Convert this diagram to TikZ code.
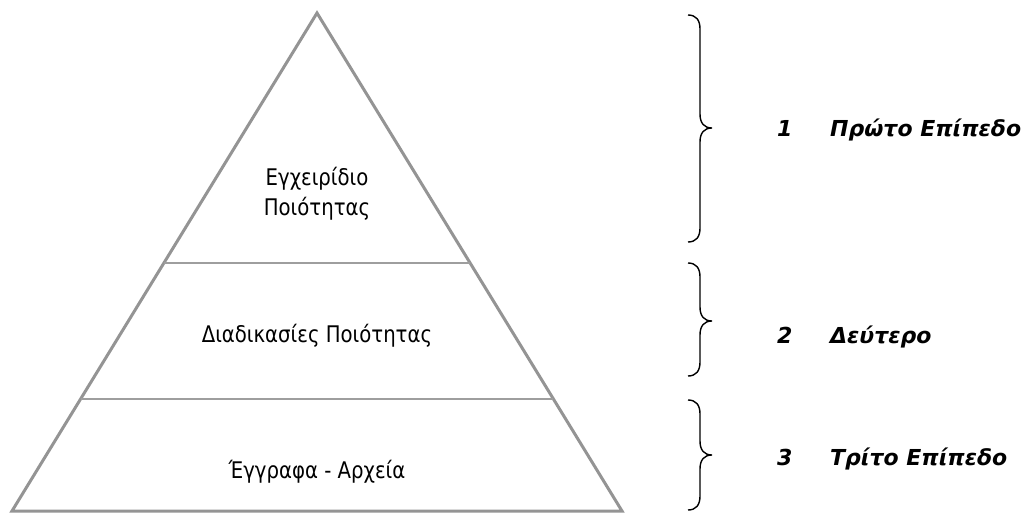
\documentclass[tikz,border=0pt]{standalone}
\usepackage{fontspec}
\setmainfont{DejaVu Sans}
\newfontfamily\pyrfont{DejaVu Sans}[FakeStretch=0.86]
\newfontfamily\labfont{DejaVu Sans}
\newcommand\mybrace[3]{%
  \draw[bracestyle] (688,#1) .. controls (696,#1) and (700,#1+5) .. (700,#1+14)
    -- (700,#2-14) .. controls (700,#2-5) and (704,#2) .. (712,#2)
    .. controls (704,#2) and (700,#2+5) .. (700,#2+14)
    -- (700,#3-14) .. controls (700,#3-5) and (696,#3) .. (688,#3);}
\tikzset{
  pyrline/.style={draw=black!42, line width=3pt, line join=miter},
  sepline/.style={draw=black!38, line width=2.2pt},
  bracestyle/.style={draw=black, line width=1.4pt},
  pyrtext/.style={inner sep=0pt, anchor=base, align=center, font=\pyrfont\fontsize{22.9}{30}\selectfont},
  labtext/.style={inner sep=0pt, anchor=base west, font=\labfont\bfseries\itshape\fontsize{22}{26}\selectfont}
}
\begin{document}
\begin{tikzpicture}[x=1pt,y=-1pt]
\useasboundingbox (0,0) rectangle (1024,513);
% pyramid
\coordinate (apex) at (317,13);
\coordinate (bl) at (12,511);
\coordinate (br) at (622,511);
\draw[pyrline] (bl) -- (apex) -- (br) -- cycle;
\path (apex) -- (bl) coordinate[pos=0.502] (s1l);
\path (apex) -- (br) coordinate[pos=0.502] (s1r);
\path (apex) -- (bl) coordinate[pos=0.775] (s2l);
\path (apex) -- (br) coordinate[pos=0.775] (s2r);
\draw[sepline] (s1l) -- (s1r);
\draw[sepline] (s2l) -- (s2r);
% pyramid texts
\node[pyrtext] (t1) at (317,215) {Εγχειρίδιο\\Ποιότητας};
\node[pyrtext] (t2) at (317,342) {Διαδικασίες Ποιότητας};
\node[pyrtext] (t3) at (317,478) {Έγγραφα - Αρχεία};
% braces
\mybrace{15}{128}{242}
\mybrace{263}{321}{376}
\mybrace{400}{455}{510}
% labels
\node[labtext] (n1) at (777,137) {1};
\node[labtext] (l1) at (830,137) {Πρώτο Επίπεδο};
\node[labtext] (n2) at (777,343) {2};
\node[labtext] (l2) at (830,343) {Δεύτερο};
\node[labtext] (n3) at (777,465) {3};
\node[labtext] (l3) at (830,465) {Τρίτο Επίπεδο};
\end{tikzpicture}
\end{document}
